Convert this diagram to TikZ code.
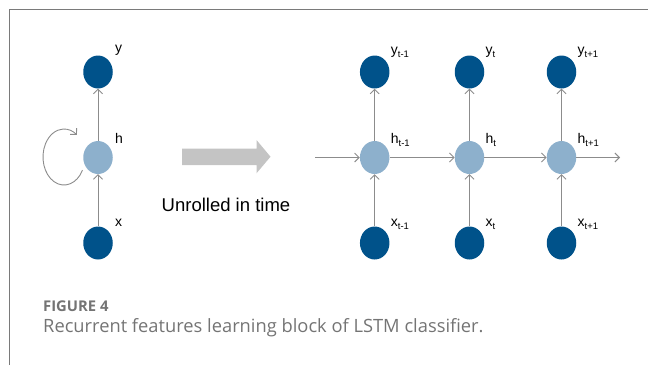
\documentclass[tikz,border=0pt]{standalone}
\usepackage{fontspec}
\setmainfont{Liberation Sans}
\newfontfamily\capfont{Open Sans}
\usetikzlibrary{shapes.geometric,arrows.meta}
\definecolor{darkblue}{HTML}{00528A}
\definecolor{lightblue}{HTML}{8DB0CC}
\definecolor{linegray}{HTML}{8C8C8C}
\definecolor{biggray}{HTML}{C4C4C4}
\definecolor{framegray}{HTML}{7A7A7A}
\definecolor{captext}{HTML}{747474}
\newcommand{\sbs}[1]{\raisebox{-3.5pt}{\fontsize{9.5}{9.5}\selectfont #1}}
\begin{document}
\begin{tikzpicture}[x=1pt,y=-1pt,
  dnode/.style={ellipse,fill=darkblue,minimum width=29.5pt,minimum height=33pt,inner sep=0pt},
  lnode/.style={ellipse,fill=lightblue,minimum width=29.5pt,minimum height=33pt,inner sep=0pt},
  lab/.style={anchor=base west,inner sep=0pt,font=\fontsize{14}{14}\selectfont},
  conn/.style={draw=linegray,line width=0.9pt,-{Straight Barb[length=4.5pt,width=9pt,line width=0.9pt]}},
  capt/.style={anchor=base west,inner sep=0pt,text=captext}]
\useasboundingbox (0,0) rectangle (648,365);
\draw[framegray,line width=0.8pt] (9.5,365) -- (9.5,9.5) -- (648,9.5);
% left folded network
\node[dnode] (y0) at (98,72) {};
\node[lnode] (h0) at (98,157.5) {};
\node[dnode] (x0) at (98,243) {};
\node[lab] (ly0) at (115,52) {y};
\node[lab] (lh0) at (115,143) {h};
\node[lab] (lx0) at (115,226) {x};
\draw[conn] (x0) -- (h0);
\draw[conn] (h0) -- (y0);
\coordinate (lc) at (64,157);
\draw[linegray,line width=0.9pt,-{Straight Barb[length=4.5pt,width=9pt,line width=0.9pt]}]
  ([shift={(28:21 and 28)}]lc) arc[start angle=28,end angle=308,x radius=21,y radius=28];
% big arrow
\fill[biggray] (182,148.5) -- (256.5,148.5) -- (256.5,140) -- (270.5,156.7) -- (256.5,173.3) -- (256.5,165) -- (182,165) -- cycle;
\node[anchor=base,inner sep=0pt,font=\fontsize{18.5}{18.5}\selectfont] (unr) at (226,211.5) {Unrolled in time};
% unrolled network
\foreach \i/\cx/\s in {1/374.7/{t-1},2/469.5/t,3/561.5/{t+1}}{
  \node[dnode] (y\i) at (\cx,72) {};
  \node[lnode] (h\i) at (\cx,157.5) {};
  \node[dnode] (x\i) at (\cx,243) {};
  \node[lab] (ly\i) at (\cx+16,54) {y\sbs{\s}};
  \node[lab] (lh\i) at (\cx+16,143) {h\sbs{\s}};
  \node[lab] (lx\i) at (\cx+16,226) {x\sbs{\s}};
  \draw[conn] (x\i) -- (h\i);
  \draw[conn] (h\i) -- (y\i);
}
\coordinate (in) at (315,157.5);
\coordinate (out) at (620,157.5);
\draw[conn] (in) -- (h1);
\draw[conn] (h1) -- (h2);
\draw[conn] (h2) -- (h3);
\draw[conn] (h3) -- (out);
% caption
\node[capt,font=\capfont\bfseries\fontsize{14.8}{14.8}\selectfont] (fig) at (43,311.5) {FIGURE 4};
\node[capt,font=\capfont\fontsize{18.3}{18.3}\selectfont] (cap) at (43,332) {Recurrent features learning block of LSTM classifier.};
\end{tikzpicture}
\end{document}
